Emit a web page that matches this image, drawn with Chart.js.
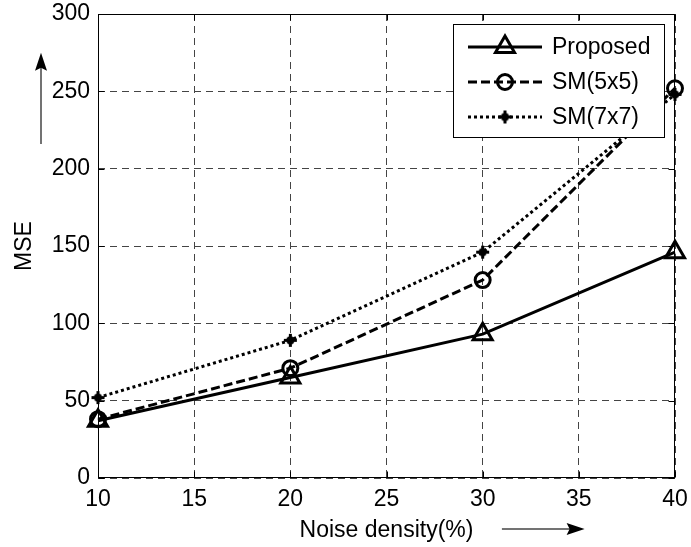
<!DOCTYPE html>
<html><head><meta charset="utf-8">
<script src="https://cdn.jsdelivr.net/npm/chart.js@4/dist/chart.umd.min.js"></script>
<style>html,body{margin:0;padding:0;background:#fff}#wrap{width:691px;height:547px}</style>
</head><body><div id="wrap"><canvas id="c" width="691" height="547"></canvas></div>
<script>
// ---- data ----
const noiseDensity = [10, 20, 30, 40];
const proposed = [37, 65, 93, 146];
const sm5x5 = [38, 71, 128, 252];
const sm7x7 = [52, 89, 146, 248];
const seriesNames = ['Proposed', 'SM(5x5)', 'SM(7x7)'];
const xTickValues = [10, 15, 20, 25, 30, 35, 40];
const yTickValues = [0, 50, 100, 150, 200, 250, 300];
const xTitle = 'Noise density(%)';
const yTitle = 'MSE';

const FONT = '"Liberation Sans", Arial, Helvetica, sans-serif';
const FS = 23;

// custom marker: thick plus with filled centre
function makePlusDot() {
  const c = document.createElement('canvas');
  c.width = 15; c.height = 15;
  const g = c.getContext('2d');
  g.strokeStyle = '#000'; g.fillStyle = '#000'; g.lineWidth = 3;
  g.beginPath(); g.moveTo(1, 7.5); g.lineTo(14, 7.5); g.moveTo(7.5, 1); g.lineTo(7.5, 14); g.stroke();
  g.beginPath(); g.arc(7.5, 7.5, 4.2, 0, Math.PI * 2); g.fill();
  return c;
}
const plusDot = makePlusDot();

const toPts = arr => arr.map((v, i) => ({x: noiseDensity[i], y: v}));

const datasets = [
  {label: seriesNames[0], data: toPts(proposed), borderColor: '#000', borderWidth: 3,
   borderDash: [], pointStyle: 'triangle', pointRadius: 11, pointBorderWidth: 3,
   pointBorderColor: '#000', pointBackgroundColor: 'rgba(0,0,0,0)'},
  {label: seriesNames[1], data: toPts(sm5x5), borderColor: '#000', borderWidth: 3,
   borderDash: [9, 4], pointStyle: 'circle', pointRadius: 7.5, pointBorderWidth: 3,
   pointBorderColor: '#000', pointBackgroundColor: 'rgba(0,0,0,0)'},
  {label: seriesNames[2], data: toPts(sm7x7), borderColor: '#000', borderWidth: 3,
   borderDash: [3, 3], pointStyle: plusDot, pointRadius: 7, pointBorderWidth: 0,
   pointBorderColor: '#000', pointBackgroundColor: '#000'}
];
datasets.forEach(d => { d.fill = false; d.tension = 0; d.clip = false; d.borderCapStyle = 'butt'; });

const framePlugin = {
  id: 'frame',
  beforeDatasetsDraw(chart) {
    const ctx = chart.ctx, ca = chart.chartArea;
    const xs = chart.scales.x, ys = chart.scales.y;
    ctx.save();
    ctx.strokeStyle = '#000'; ctx.lineWidth = 1; ctx.setLineDash([]);
    const L = Math.round(ca.left) + 0.5, R = Math.round(ca.right) - 0.5;
    const T = Math.round(ca.top) + 0.5, B = Math.round(ca.bottom) - 0.5;
    ctx.strokeRect(L, T, R - L, B - T);
    ctx.beginPath();
    xTickValues.forEach(v => {
      const p = Math.round(xs.getPixelForValue(v)) + 0.5;
      ctx.moveTo(p, B); ctx.lineTo(p, B - 6);
      ctx.moveTo(p, T); ctx.lineTo(p, T + 6);
    });
    yTickValues.forEach(v => {
      const p = Math.round(ys.getPixelForValue(v)) + 0.5;
      ctx.moveTo(L, p); ctx.lineTo(L + 6, p);
      ctx.moveTo(R, p); ctx.lineTo(R - 6, p);
    });
    ctx.stroke();
    ctx.restore();
  }
};

function drawMarker(ctx, ds, x, y) {
  const st = ds.pointStyle;
  if (st instanceof HTMLCanvasElement) { ctx.drawImage(st, x - st.width / 2, y - st.height / 2); return; }
  ctx.save();
  ctx.strokeStyle = ds.pointBorderColor; ctx.fillStyle = ds.pointBackgroundColor;
  ctx.lineWidth = ds.pointBorderWidth; ctx.setLineDash([]);
  if (Chart.helpers && Chart.helpers.drawPoint) {
    Chart.helpers.drawPoint(ctx, {pointStyle: st, radius: ds.pointRadius, rotation: 0, borderWidth: ds.pointBorderWidth}, x, y);
  }
  ctx.restore();
}

const legendPlugin = {
  id: 'matlabLegend',
  afterDraw(chart) {
    const ctx = chart.ctx, ca = chart.chartArea;
    const boxR = ca.right - 10, boxL = boxR - 212, boxT = ca.top + 10, boxB = boxT + 114;
    ctx.save();
    ctx.fillStyle = '#fff';
    ctx.fillRect(boxL, boxT, boxR - boxL, boxB - boxT);
    ctx.strokeStyle = '#000'; ctx.lineWidth = 1; ctx.setLineDash([]);
    ctx.strokeRect(Math.round(boxL) + 0.5, Math.round(boxT) + 0.5, Math.round(boxR - boxL) - 1, Math.round(boxB - boxT) - 1);
    chart.data.datasets.forEach((ds, i) => {
      const y = boxT + 23 + i * 35;
      ctx.save();
      ctx.strokeStyle = ds.borderColor; ctx.lineWidth = ds.borderWidth;
      ctx.setLineDash(ds.borderDash || []); ctx.lineCap = 'butt';
      ctx.beginPath(); ctx.moveTo(boxL + 15, y); ctx.lineTo(boxL + 89, y); ctx.stroke();
      ctx.restore();
      drawMarker(ctx, ds, boxL + 52, y);
      ctx.fillStyle = '#000';
      ctx.font = FS + 'px ' + FONT;
      ctx.textBaseline = 'middle'; ctx.textAlign = 'left';
      ctx.fillText(ds.label, boxL + 99, y + 1);
    });
    ctx.restore();
  }
};

const arrowPlugin = {
  id: 'arrows',
  afterDraw(chart) {
    const ctx = chart.ctx;
    const xs = chart.scales.x, ys = chart.scales.y;
    ctx.save();
    // up arrow beside y title
    const ax = 41, ay0 = ys.getPixelForValue(216), ay1 = ys.getPixelForValue(275);
    ctx.strokeStyle = '#444'; ctx.lineWidth = 1.5;
    ctx.beginPath(); ctx.moveTo(ax, ay0); ctx.lineTo(ax, ay1 + 14); ctx.stroke();
    ctx.fillStyle = '#000';
    ctx.beginPath(); ctx.moveTo(ax, ay1); ctx.lineTo(ax - 6, ay1 + 18); ctx.lineTo(ax, ay1 + 15); ctx.lineTo(ax + 6, ay1 + 18); ctx.closePath(); ctx.fill();
    // right arrow beside x title
    const bx0 = xs.getPixelForValue(31), bx1 = xs.getPixelForValue(35.3), by = 529;
    ctx.beginPath(); ctx.moveTo(bx0, by); ctx.lineTo(bx1 - 14, by); ctx.stroke();
    ctx.beginPath(); ctx.moveTo(bx1, by); ctx.lineTo(bx1 - 18, by - 6); ctx.lineTo(bx1 - 15, by); ctx.lineTo(bx1 - 18, by + 6); ctx.closePath(); ctx.fill();
    ctx.restore();
  }
};

function zeroPad(s) { s.paddingTop = 0; s.paddingBottom = 0; s.paddingLeft = 0; s.paddingRight = 0; }

Chart.defaults.font.family = FONT;
Chart.defaults.font.size = FS;
Chart.defaults.color = '#000';

new Chart(document.getElementById('c'), {
  type: 'line',
  data: {datasets},
  options: {
    responsive: false, animation: false, devicePixelRatio: 1, events: [],
    layout: {padding: {left: 0, right: 16, top: 14, bottom: 0}},
    plugins: {legend: {display: false}, tooltip: {enabled: false}},
    scales: {
      x: {
        type: 'linear', min: 10, max: 40,
        afterBuildTicks: s => { s.ticks = xTickValues.map(v => ({value: v})); },
        afterFit: s => { s.height = 69; zeroPad(s); },
        ticks: {padding: 8, font: {size: FS}, color: '#000', maxRotation: 0},
        grid: {color: '#444', lineWidth: 1, drawTicks: false},
        border: {display: false, dash: [7, 5]},
        title: {display: true, text: xTitle, font: {size: FS}, color: '#000', padding: {top: 0, bottom: 3}}
      },
      y: {
        type: 'linear', min: 0, max: 300,
        afterBuildTicks: s => { s.ticks = yTickValues.map(v => ({value: v})); },
        afterFit: s => { s.width = 98; zeroPad(s); },
        ticks: {padding: 8, font: {size: FS}, color: '#000'},
        grid: {color: '#444', lineWidth: 1, drawTicks: false},
        border: {display: false, dash: [7, 5]},
        title: {display: true, text: yTitle, font: {size: FS}, color: '#000', padding: {top: 11, bottom: 0}}
      }
    }
  },
  plugins: [framePlugin, legendPlugin, arrowPlugin]
});
</script></body></html>
